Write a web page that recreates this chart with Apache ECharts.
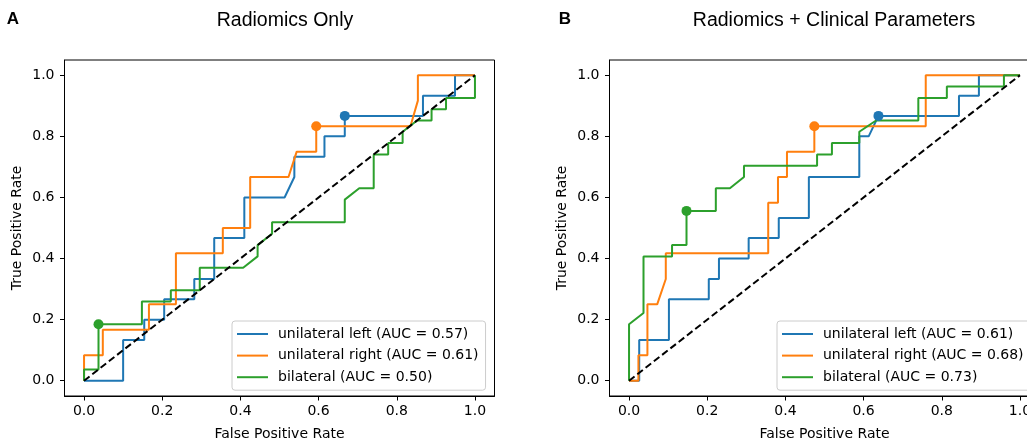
<!DOCTYPE html>
<html>
<head>
<meta charset="utf-8">
<script src="https://cdn.jsdelivr.net/npm/echarts@6/dist/echarts.min.js"></script>
<style>
  html, body { margin: 0; padding: 0; background: #fff; }
  #chart { width: 1027px; height: 438px; }
</style>
</head>
<body>
<div id="chart"></div>
<script>
// tick labels on both axes
const tickValues = [0, 0.2, 0.4, 0.6, 0.8, 1.0];

// chance line
const chanceFpr = [0, 1];
const chanceTpr = [0, 1];

// panel A - radiomics only
const aLeftFpr = [0, 0.1, 0.1, 0.154, 0.154, 0.205, 0.205, 0.282, 0.282, 0.333, 0.333, 0.41, 0.41, 0.513, 0.538, 0.538, 0.615, 0.615, 0.667, 0.667, 0.867, 0.867, 0.949, 0.949, 1.0];
const aLeftTpr = [0, 0, 0.133, 0.133, 0.2, 0.2, 0.267, 0.267, 0.333, 0.333, 0.467, 0.467, 0.6, 0.6, 0.667, 0.733, 0.733, 0.8, 0.8, 0.867, 0.867, 0.933, 0.933, 1.0, 1.0];
const aRightFpr = [0, 0, 0.048, 0.048, 0.166, 0.166, 0.235, 0.235, 0.355, 0.355, 0.425, 0.425, 0.523, 0.544, 0.594, 0.594, 0.835, 0.854, 0.854, 1.0];
const aRightTpr = [0, 0.083, 0.083, 0.167, 0.167, 0.25, 0.25, 0.417, 0.417, 0.5, 0.5, 0.667, 0.667, 0.75, 0.75, 0.833, 0.833, 0.917, 1.0, 1.0];
const aBiFpr = [0, 0, 0.037, 0.037, 0.148, 0.148, 0.222, 0.222, 0.296, 0.296, 0.407, 0.444, 0.444, 0.481, 0.481, 0.667, 0.667, 0.704, 0.741, 0.741, 0.778, 0.778, 0.815, 0.815, 0.852, 0.889, 0.889, 0.926, 0.926, 1.0, 1.0];
const aBiTpr = [0, 0.037, 0.037, 0.185, 0.185, 0.259, 0.259, 0.296, 0.296, 0.37, 0.37, 0.407, 0.444, 0.481, 0.519, 0.519, 0.593, 0.63, 0.63, 0.741, 0.741, 0.778, 0.778, 0.815, 0.852, 0.852, 0.889, 0.889, 0.926, 0.926, 1.0];
// optimal cut-off points [fpr, tpr]
const aLeftBest = [0.667, 0.867];
const aRightBest = [0.594, 0.833];
const aBiBest = [0.037, 0.185];
const aNames = ["unilateral left (AUC = 0.57)", "unilateral right (AUC = 0.61)", "bilateral (AUC = 0.50)"];

// panel B - radiomics + clinical parameters
const bLeftFpr = [0, 0.026, 0.026, 0.102, 0.102, 0.204, 0.204, 0.23, 0.23, 0.306, 0.306, 0.383, 0.383, 0.46, 0.46, 0.589, 0.589, 0.613, 0.638, 0.844, 0.844, 0.895, 0.895, 1.0];
const bLeftTpr = [0, 0, 0.133, 0.133, 0.267, 0.267, 0.333, 0.333, 0.4, 0.4, 0.467, 0.467, 0.533, 0.533, 0.667, 0.667, 0.8, 0.8, 0.867, 0.867, 0.933, 0.933, 1.0, 1.0];
const bRightFpr = [0, 0.024, 0.024, 0.047, 0.047, 0.072, 0.094, 0.094, 0.356, 0.356, 0.381, 0.381, 0.404, 0.404, 0.474, 0.474, 0.759, 0.759, 1.0];
const bRightTpr = [0, 0, 0.083, 0.083, 0.25, 0.25, 0.333, 0.417, 0.417, 0.583, 0.583, 0.667, 0.667, 0.75, 0.75, 0.833, 0.833, 1.0, 1.0];
const bBiFpr = [0, 0, 0.037, 0.037, 0.11, 0.11, 0.147, 0.147, 0.222, 0.222, 0.258, 0.294, 0.294, 0.481, 0.481, 0.519, 0.519, 0.589, 0.589, 0.632, 0.74, 0.74, 0.813, 0.813, 0.959, 0.959, 1.0];
const bBiTpr = [0, 0.185, 0.222, 0.407, 0.407, 0.444, 0.444, 0.556, 0.556, 0.63, 0.63, 0.667, 0.704, 0.704, 0.741, 0.741, 0.778, 0.778, 0.815, 0.852, 0.852, 0.926, 0.926, 0.963, 0.963, 1.0, 1.0];
const bLeftBest = [0.638, 0.867];
const bRightBest = [0.474, 0.833];
const bBiBest = [0.147, 0.556];
const bNames = ["unilateral left (AUC = 0.61)", "unilateral right (AUC = 0.68)", "bilateral (AUC = 0.73)"];

const colors = ["#1f77b4", "#ff7f0e", "#2ca02c"];
const mainFont = "DejaVu Sans";
const titleFont = "'Liberation Sans', Arial, sans-serif";

function zip(xs, ys) {
   return xs.map((x, i) => [x, ys[i]]);
}

function makeAxis(gridIndex, isX) {
   return {
      type: "value",
      gridIndex: gridIndex,
      min: -0.05,
      max: 1.05,
      name: isX ? "False Positive Rate" : "True Positive Rate",
      nameLocation: "middle",
      nameGap: isX ? 31 : 40,
      nameTextStyle: { fontFamily: mainFont, fontSize: 14, color: "#000" },
      axisLine: { show: true, onZero: false, lineStyle: { color: "#000", width: 1 } },
      splitLine: { show: false },
      axisTick: {
         show: true,
         customValues: tickValues,
         length: 4.5,
         lineStyle: { color: "#000", width: 1 },
      },
      axisLabel: {
         customValues: tickValues,
         margin: isX ? 8 : 10,
         fontFamily: mainFont,
         fontSize: 14,
         color: "#000",
         formatter: (v) => v.toFixed(1),
      },
   };
}

function panelSeries(idx, curves, bests, names) {
   let list = [];
   curves.forEach((c, i) => {
      list.push({
         name: names[i],
         type: "line",
         xAxisIndex: idx,
         yAxisIndex: idx,
         symbol: "none",
         lineStyle: { color: colors[i], width: 2 },
         itemStyle: { color: colors[i] },
         data: zip(c[0], c[1]),
         z: 2,
      });
   });
   bests.forEach((b, i) => {
      list.push({
         type: "scatter",
         xAxisIndex: idx,
         yAxisIndex: idx,
         symbolSize: 10,
         itemStyle: { color: colors[i], opacity: 1 },
         data: [b],
         z: 3,
      });
   });
   // chance diagonal
   list.push({
      type: "line",
      xAxisIndex: idx,
      yAxisIndex: idx,
      symbol: "none",
      lineStyle: { color: "#000", width: 2, type: [7, 3.5] },
      data: zip(chanceFpr, chanceTpr),
      z: 4,
   });
   return list;
}

function makeLegend(names, left) {
   return {
      data: names,
      orient: "vertical",
      left: left,
      top: 321,
      icon: "rect",
      itemWidth: 31,
      itemHeight: 2,
      itemGap: 5.6,
      padding: [5, 7, 5, 5],
      backgroundColor: "rgba(255,255,255,0.8)",
      borderColor: "#cccccc",
      borderWidth: 1,
      borderRadius: 3,
      textStyle: {
         fontFamily: mainFont,
         fontSize: 14,
         lineHeight: 16,
         color: "#000",
         padding: [0, 0, 0, 5],
      },
   };
}

const myChart = echarts.init(document.getElementById("chart"), null, { renderer: "canvas" });

const gridBase = {
   top: 60,
   width: 430,
   height: 336,
   show: true,
   borderColor: "#000",
   borderWidth: 1,
   backgroundColor: "transparent",
   containLabel: false,
   outerBoundsMode: "none",
};

const option = {
   animation: false,
   backgroundColor: "#fff",
   grid: [
      { ...gridBase, left: 64.5 },
      { ...gridBase, left: 609.5 },
   ],
   xAxis: [makeAxis(0, true), makeAxis(1, true)],
   yAxis: [makeAxis(0, false), makeAxis(1, false)],
   legend: [makeLegend(aNames, 232), makeLegend(bNames, 777)],
   graphic: [
      { type: "text", style: { text: "A", x: 13, y: 19, textAlign: "center", textVerticalAlign: "middle", fontFamily: titleFont, fontSize: 17, fontWeight: "bold", fill: "#000" } },
      { type: "text", style: { text: "Radiomics Only", x: 285, y: 20.5, textAlign: "center", textVerticalAlign: "middle", fontFamily: titleFont, fontSize: 19.5, fill: "#000" } },
      { type: "text", style: { text: "B", x: 565, y: 19, textAlign: "center", textVerticalAlign: "middle", fontFamily: titleFont, fontSize: 17, fontWeight: "bold", fill: "#000" } },
      { type: "text", style: { text: "Radiomics + Clinical Parameters", x: 834, y: 20.5, textAlign: "center", textVerticalAlign: "middle", fontFamily: titleFont, fontSize: 19.5, fill: "#000" } },
   ],
   series: [
      ...panelSeries(0, [[aLeftFpr, aLeftTpr], [aRightFpr, aRightTpr], [aBiFpr, aBiTpr]], [aLeftBest, aRightBest, aBiBest], aNames),
      ...panelSeries(1, [[bLeftFpr, bLeftTpr], [bRightFpr, bRightTpr], [bBiFpr, bBiTpr]], [bLeftBest, bRightBest, bBiBest], bNames),
   ],
};

option && myChart.setOption(option);
</script>
</body>
</html>
